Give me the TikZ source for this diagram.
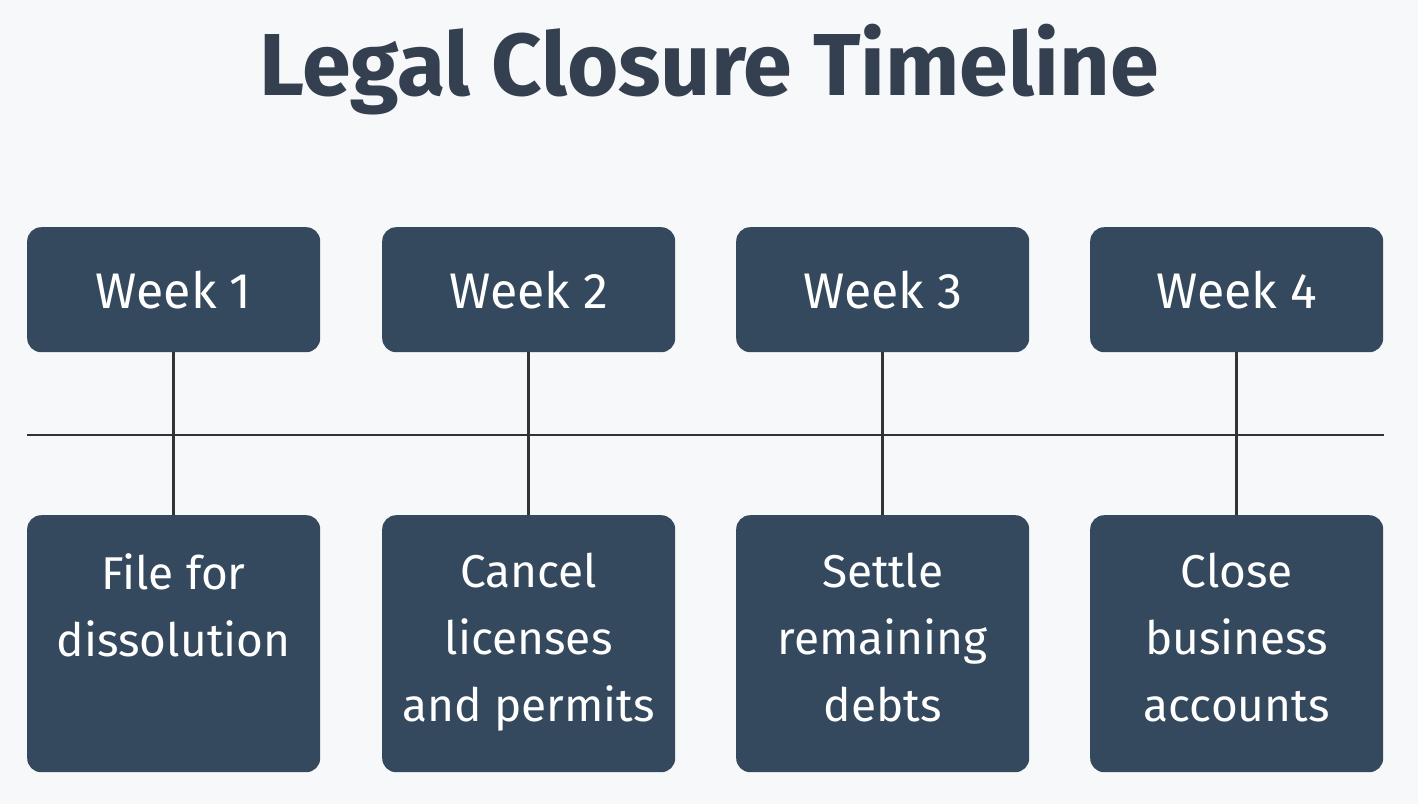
\documentclass[tikz,border=0pt]{standalone}
\usepackage{fontspec}
\setmainfont{Fira Sans}
\definecolor{bg}{HTML}{F7F8F9}
\definecolor{boxc}{HTML}{34495E}
\definecolor{titlec}{HTML}{34404F}
\definecolor{linec}{HTML}{333333}
\begin{document}
\begin{tikzpicture}[x=1pt,y=-1pt,
  wk/.style={fill=boxc,rounded corners=14pt,minimum width=293pt,minimum height=125pt,text=white,font=\fontsize{50}{60}\selectfont,anchor=north west,inner sep=0pt},
  task/.style={fill=boxc,rounded corners=14pt,minimum width=293pt,minimum height=257pt,text=white,anchor=north west,inner sep=0pt},
  conn/.style={draw=linec,line width=2.5pt}]
\fill[bg] (0,0) rectangle (1418,804);
\useasboundingbox (0,0) rectangle (1418,804);
\node[text=titlec,font=\fontsize{88}{100}\selectfont\bfseries] (title) at (709,70) {Legal Closure Timeline};
\coordinate (la) at (27,435);
\coordinate (lb) at (1384,435);
\draw[conn] (la) -- (lb);
\foreach \i/\x/\t in {1/27/{File for\\dissolution},2/382/{Cancel\\licenses\\and permits},3/736/{Settle\\remaining\\debts},4/1090/{Close\\business\\accounts}}{
  \node[wk] (w\i) at (\x,227) {Week \i};
  \node[task] (t\i) at (\x,515) {};
  \node[anchor=north,text=white,align=center,font=\fontsize{46}{67}\selectfont,inner sep=0pt] (tx\i) at ([yshift=-38pt]t\i.north) {\t};
  \draw[conn] (w\i.south) -- (t\i.north);
}
\end{tikzpicture}
\end{document}
